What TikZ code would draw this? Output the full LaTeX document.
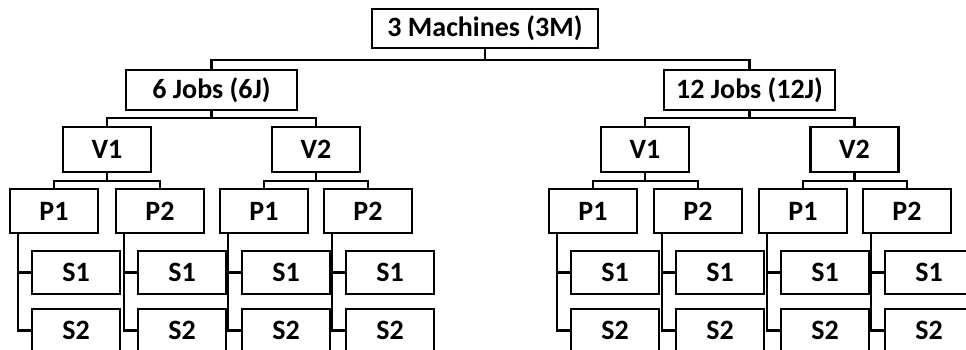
\documentclass[tikz,border=0pt]{standalone}
\usepackage{fontspec}
\setmainfont{Carlito}
\begin{document}
\begin{tikzpicture}[x=1pt,y=-1pt,
  box/.style={draw,line width=2.2pt,inner sep=0pt,font=\bfseries\fontsize{28}{28}\selectfont},
  link/.style={line width=2.2pt}]
\useasboundingbox (0,0) rectangle (966,349);
\clip (0,0) rectangle (966,349);
\fill[white] (0,0) rectangle (966,349);
% top levels
\node[box,minimum width=226pt,minimum height=39pt] (M) at (485,28.5) {3 Machines (3M)};
\node[box,minimum width=171pt,minimum height=40pt] (J6) at (211.5,90) {6 Jobs (6J)};
\node[box,minimum width=171pt,minimum height=40pt] (J12) at (749.5,90) {12 Jobs (12J)};
\draw[link] (J6.north) -- ++(0,-9) -| (M.south);
\draw[link] (J12.north) -- ++(0,-9) -| (M.south);
% V level
\foreach \n/\x/\lab/\pa in {Va/107/V1/J6, Vb/316/V2/J6, Vc/645/V1/J12, Vd/854.5/V2/J12}{
  \node[box,minimum width=88pt,minimum height=45pt] (\n) at (\x,149.5) {\lab};
  \draw[link] (\n.north) -- ++(0,-8) -| (\pa.south);
}
% P level and S level
\foreach \i/\l/\lab/\pa in {1/10/P1/Va, 2/116/P2/Va, 3/220/P1/Vb, 4/324/P2/Vb,
                             5/549/P1/Vc, 6/654/P2/Vc, 7/759/P1/Vd, 8/863/P2/Vd}{
  \node[box,minimum width=88pt,minimum height=44pt] (P\i) at (\l+44,211) {\lab};
  \draw[link] (P\i.north) -- ++(0,-7) -| (\pa.south);
  \node[box,minimum width=88pt,minimum height=43pt] (Sa\i) at (\l+66,272.5) {S1};
  \node[box,minimum width=88pt,minimum height=43pt] (Sb\i) at (\l+66,330.5) {S2};
  \draw[link] (Sb\i.west) -- ++(-13,0) coordinate (t\i) -- (t\i |- P\i.south);
  \draw[link] (Sa\i.west) -- ++(-13,0);
}
\end{tikzpicture}
\end{document}
